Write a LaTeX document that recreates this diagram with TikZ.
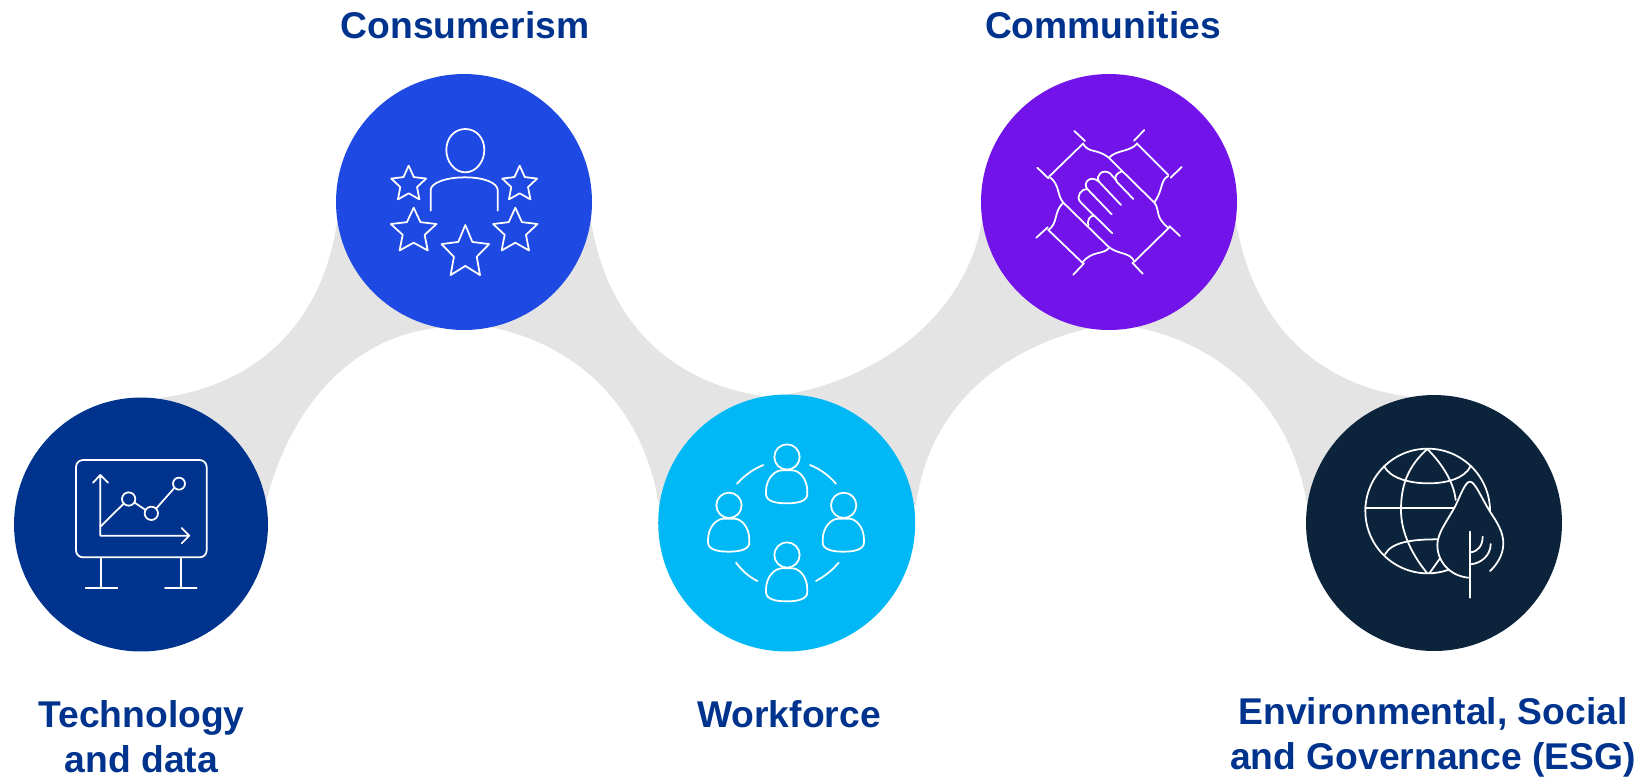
\documentclass[tikz,border=0pt]{standalone}
\usepackage{fontspec}
\setmainfont{Liberation Sans}
\definecolor{kblue}{HTML}{00338D}
\definecolor{kcobalt}{HTML}{1E49E2}
\definecolor{kcyan}{HTML}{00B8F5}
\definecolor{kpurple}{HTML}{7213EA}
\definecolor{knavy}{HTML}{0C233C}
\definecolor{kgrey}{HTML}{E4E4E4}
\tikzset{
  disc/.style={circle,inner sep=0pt,minimum size=#1},
  caption/.style={text=kblue,align=center,font=\fontsize{21.2}{25.5}\selectfont\bfseries},
  iconline/.style={draw=white,line width=1pt,line cap=round,line join=round},
  zoomed/.style={x=0.0066667cm,y=-0.0066667cm}
}
\newcommand{\iconstar}[4]{% cx cy Rx Ry
  \draw[iconline] ({#1},{#2-#4})
    \foreach \k in {1,...,9}{ -- ({#1+(#3)*(1-0.52*mod(\k,2))*sin(36*\k)},{#2-(#4)*(1-0.52*mod(\k,2))*cos(36*\k)}) } -- cycle;}
\newcommand{\iconperson}[2]{% head centre
  \draw[iconline] (#1,#2) circle (38);
  \draw[iconline] ({#1-63},{#2+104}) .. controls ({#1-63},{#2+64}) and ({#1-36},{#2+40}) .. ({#1-16},{#2+40}) -- ({#1+16},{#2+40})
    .. controls ({#1+36},{#2+40}) and ({#1+61},{#2+64}) .. ({#1+61},{#2+104}) -- ({#1+61},{#2+111})
    .. controls ({#1+61},{#2+134}) and ({#1+29},{#2+139}) .. ({#1-1},{#2+139})
    .. controls ({#1-31},{#2+139}) and ({#1-63},{#2+134}) .. ({#1-63},{#2+111}) -- cycle;}
\begin{document}
\begin{tikzpicture}[x=0.02cm,y=-0.02cm]
\useasboundingbox (0,0) rectangle (1645,779);
% ribbon
\fill[kgrey] (160,398) .. controls (260,385) and (325,320) .. (338,215)
  -- (590,215) .. controls (605,320) and (670,385) .. (770,397)
  .. controls (870,385) and (968,320) .. (983,215)
  -- (1235,215) .. controls (1250,320) and (1315,385) .. (1411,397)
  -- (1434,523) -- (1308,512)
  .. controls (1295,410) and (1225,345) .. (1135,327)
  -- (1095,327) .. controls (1010,345) and (930,400) .. (916,505)
  -- (786,523) -- (659,507)
  .. controls (645,410) and (580,345) .. (490,327)
  -- (450,327) .. controls (360,330) and (290,400) .. (265,507)
  -- (141,524) -- cycle;
% discs
\node[disc=5.08cm,fill=kblue] (tech) at (141,524.5) {};
\node[disc=5.12cm,fill=kcobalt] (cons) at (464,202) {};
\node[disc=5.14cm,fill=kcyan] (work) at (786.7,523) {};
\node[disc=5.12cm,fill=kpurple] (comm) at (1109,202) {};
\node[disc=5.12cm,fill=knavy] (esg) at (1434,523) {};
% captions
\node[caption] (lcons) at (465,25) {Consumerism};
\node[caption] (lcomm) at (1103,25) {Communities};
\node[caption] (ltech) at (141.5,737) {Technology\\and data};
\node[caption] (lwork) at (789,714) {Workforce};
\node[caption] (lesg) at (1433,737) {Environmental, Social\\and Governance (ESG)};
% technology icon
\begin{scope}[shift={(0,380)},zoomed]
  \draw[iconline,rounded corners=0.14cm] (228,240) rectangle (620,532);
  \draw[iconline] (302,532) -- (302,624) (542,532) -- (542,624) (257,624) -- (352,624) (495,624) -- (590,624);
  \draw[iconline] (279,308) -- (301,285) -- (324,308) (301,285) -- (301,467) -- (568,467) (545,444) -- (568,467) -- (545,490);
  \draw[iconline] (301,440) -- (372,370) (404,368) -- (437,390) (470,384) -- (522,325);
  \draw[iconline] (386,357) circle (20) (454,400) circle (20) (537,311) circle (18);
\end{scope}
% consumerism icon
\begin{scope}[shift={(330,60)},zoomed]
  \draw[iconline] (406,207) .. controls (440,207) and (463,235) .. (463,270) .. controls (463,305) and (438,337) .. (406,337)
    .. controls (374,337) and (349,305) .. (349,270) .. controls (349,235) and (372,207) .. (406,207) -- cycle;
  \draw[iconline] (302,452) -- (302,390) .. controls (302,370) and (345,352) .. (405,352) .. controls (465,352) and (503,370) .. (503,390) -- (503,452);
  \iconstar{236}{373}{55}{56}
  \iconstar{569}{373}{55}{56}
  \iconstar{251}{514}{72}{71}
  \iconstar{556}{514}{70}{71}
  \iconstar{406}{578}{75}{83}
\end{scope}
% workforce icon
\begin{scope}[shift={(650,390)},zoomed]
  \iconperson{411}{201}
  \iconperson{237}{346}
  \iconperson{581}{346}
  \iconperson{411}{495}
  \draw[iconline] (261,281) .. controls (285,255) and (310,237) .. (340,225);
  \draw[iconline] (480,225) .. controls (510,237) and (535,255) .. (558,281);
  \draw[iconline] (258,518) .. controls (275,540) and (295,560) .. (322,573);
  \draw[iconline] (498,573) .. controls (525,558) and (548,540) .. (566,518);
\end{scope}
% communities icon
\begin{scope}[shift={(975,70)},zoomed]
  \draw[iconline] (298,183) -- (330,213) (187,293) -- (220,325) (325,220) -- (222,320);
  \draw[iconline] (508,180) -- (477,212) (620,291) -- (587,323) (485,220) -- (580,315);
  \draw[iconline] (615,498) -- (583,468) (503,611) -- (472,578) (583,472) -- (478,575);
  \draw[iconline] (184,503) -- (218,472) (295,614) -- (327,580) (220,480) -- (322,578);
  \draw[iconline] (325,222) .. controls (340,250) and (365,235) .. (400,262) -- (540,400) .. controls (555,425) and (540,440) .. (578,472);
  \draw[iconline] (485,222) .. controls (465,245) and (425,240) .. (403,262);
  \draw[iconline] (580,318) .. controls (555,330) and (565,360) .. (538,397);
  \draw[iconline] (478,575) .. controls (465,545) and (430,555) .. (400,530) -- (265,398) .. controls (245,375) and (255,345) .. (225,322);
  \draw[iconline] (403,532) .. controls (390,555) and (350,540) .. (322,578);
  \draw[iconline] (220,480) .. controls (250,460) and (235,425) .. (265,398);
  \draw[iconline] (475,387) -- (425,335) .. controls (415,322) and (425,308) .. (441,304);
  \draw[iconline] (438,405) -- (372,335) .. controls (360,315) and (385,295) .. (405,310) -- (425,332);
  \draw[iconline] (410,433) -- (337,357) .. controls (322,340) and (345,312) .. (372,335);
  \draw[iconline] (337,357) .. controls (320,355) and (300,380) .. (317,397) -- (358,438);
  \draw[iconline] (412,490) -- (358,437) .. controls (345,435) and (335,452) .. (340,468);
\end{scope}
% esg icon
\begin{scope}[shift={(1300,390)},zoomed]
  \draw[iconline] (570,363) arc[start angle=0,end angle=-290,radius=187];
  \draw[iconline] (382,177) .. controls (310,240) and (303,310) .. (303,362) .. controls (303,430) and (340,500) .. (382,550);
  \draw[iconline] (382,177) .. controls (430,225) and (462,280) .. (467,330);
  \draw[iconline] (388,550) -- (420,505);
  \draw[iconline] (195,355) -- (460,355);
  \draw[iconline] (252,228) .. controls (270,265) and (330,280) .. (385,280) .. controls (440,280) and (495,265) .. (512,228);
  \draw[iconline] (255,493) .. controls (275,455) and (340,448) .. (412,448);
  \draw[iconline] (505,563) .. controls (450,558) and (412,515) .. (412,465) .. controls (412,430) and (440,395) .. (465,350)
    .. controls (480,320) and (495,275) .. (510,275) .. controls (525,275) and (545,325) .. (570,365)
    .. controls (590,395) and (610,425) .. (610,460) .. controls (610,495) and (590,525) .. (570,543);
  \draw[iconline] (511,425) -- (511,623);
  \draw[iconline] (511,487) .. controls (535,485) and (548,465) .. (548,440);
  \draw[iconline] (511,523) .. controls (545,520) and (572,495) .. (572,462);
\end{scope}
\end{tikzpicture}
\end{document}
